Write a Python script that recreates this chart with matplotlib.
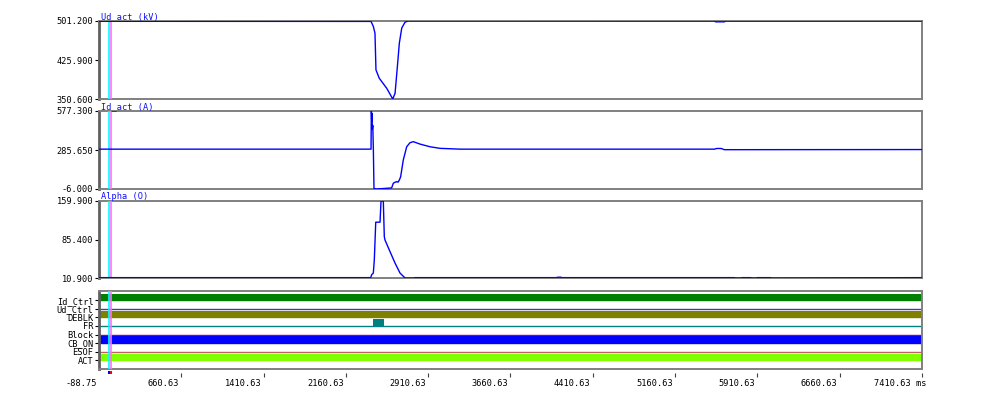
import matplotlib
matplotlib.use("Agg")
import matplotlib.pyplot as plt
from matplotlib.transforms import ScaledTranslation

plt.rcParams['font.family'] = ['DejaVu Sans Mono', 'DejaVu Sans']

# ---------------- data ----------------
t_min, t_max = -88.75, 7410.63
x_ticks = [-88.75, 660.63, 1410.63, 2160.63, 2910.63, 3660.63,
           4410.63, 5160.63, 5910.63, 6660.63, 7410.63]
x_tick_labels = ["-88.75", "660.63", "1410.63", "2160.63", "2910.63", "3660.63",
                 "4410.63", "5160.63", "5910.63", "6660.63", "7410.63 ms"]
cursor_times = [-2.0, 18.0]

ud_title = "Ud_act (kV)"
ud_t = [-88.75, 2390, 2411, 2426, 2435, 2465, 2533, 2588, 2609, 2630, 2648,
        2670, 2700, 2730, 5520, 5530, 5610, 5620, 7410.63]
ud_v = [500.6, 500.4, 490.7, 477.8, 406.8, 390.7, 371.3, 350.6, 361.6, 413.0, 458.5,
        487.6, 499.0, 501.2, 501.0, 499.6, 499.6, 501.0, 501.0]
ud_ticks = [350.6, 425.9, 501.2]
ud_tick_labels = ["350.600", "425.900", "501.200"]

id_title = "Id_act (A)"
id_t = [-88.75, 2390, 2393, 2396, 2399, 2402, 2406, 2411, 2417, 2440, 2578, 2593,
        2608, 2624, 2636, 2648, 2660, 2684, 2715, 2745, 2775, 2836, 2927, 3019,
        3201, 5520, 5540, 5580, 5610, 7410.63]
id_v = [292, 292, 577.3, 500, 560, 440, 470, 300, -2, -6, 2, 37,
        44, 49, 45, 61, 86, 211, 310, 340, 348, 330, 310, 298,
        292, 292, 297, 297, 288, 289]
id_ticks = [-6.0, 285.65, 577.3]
id_tick_labels = ["-6.000", "285.650", "577.300"]

alpha_title = "Alpha (O)"
alpha_t = [-88.75, 2387, 2396, 2411, 2420, 2433, 2472, 2481, 2502, 2511, 2517,
           2563, 2609, 2654, 2700, 2780, 2790, 4080, 4090, 4120, 4130,
           5700, 5710, 5760, 5770, 5850, 5860, 5900, 5910, 6030, 6040, 7410.63]
alpha_v = [11.6, 11.6, 17.3, 20.5, 46.0, 118.9, 118.9, 159.9, 159.9, 91.0, 84.6,
           62.0, 39.7, 20.5, 10.9, 10.9, 11.6, 11.6, 12.4, 12.4, 11.6,
           11.6, 10.9, 10.9, 11.6, 11.6, 10.9, 10.9, 11.6, 11.6, 10.9, 11.6]
alpha_ticks = [10.9, 85.4, 159.9]
alpha_tick_labels = ["10.900", "85.400", "159.900"]

dig_names = ["Id_Ctrl", "Ud_Ctrl", "DEBLK", "FR", "Block", "CB_ON", "ESOF", "ACT"]
dig_colors = ["#008000", "#404090", "#808000", "#008080", "#900090", "#0000ff", "#c06060", "#80ff00"]
dig_t = [-88.75, 2411, 2511, 7410.63]
dig_states = {
    "Id_Ctrl": [1, 1, 1, 1],
    "Ud_Ctrl": [0, 0, 0, 0],
    "DEBLK":   [1, 1, 1, 1],
    "FR":      [0, 1, 0, 0],
    "Block":   [0, 0, 0, 0],
    "CB_ON":   [1, 1, 1, 1],
    "ESOF":    [0, 0, 0, 0],
    "ACT":     [1, 1, 1, 1],
}

# ---------------- figure ----------------
W, H = 990, 396
fig = plt.figure(figsize=(W / 100, H / 100), dpi=100)

def px_axes(x0, y0, x1, y1):
    return fig.add_axes([x0 / W, 1 - y1 / H, (x1 - x0) / W, (y1 - y0) / H])

FS = 6.2
line_col = "#0000ff"
frame_col = "#808080"

def style(ax):
    for s in ["top", "bottom", "right"]:
        ax.spines[s].set_color(frame_col)
        ax.spines[s].set_linewidth(1.4)
    ax.spines["left"].set_color("#606060")
    ax.spines["left"].set_linewidth(2.0)
    ax.set_xlim(t_min, t_max)
    ax.set_xticks([])
    ax.tick_params(axis="y", direction="out", length=3, width=0.8, pad=1,
                   labelsize=FS, colors="black")
    for c, tc in zip(["#00ffff", "#ff70ff"], cursor_times):
        ax.axvline(tc, color=c, lw=1.2, zorder=3)

panels = [
    (21, 99, ud_t, ud_v, ud_ticks, ud_tick_labels, ud_title),
    (111, 189, id_t, id_v, id_ticks, id_tick_labels, id_title),
    (201, 278, alpha_t, alpha_v, alpha_ticks, alpha_tick_labels, alpha_title),
]
for y0, y1, tt, vv, ticks, tlabels, title in panels:
    ax = px_axes(99, y0, 922, y1)
    style(ax)
    ax.plot(tt, vv, color=line_col, lw=1.0, zorder=4)
    ax.set_ylim(ticks[0], ticks[-1])
    ax.set_yticks(ticks)
    ax.set_yticklabels(tlabels)
    ax.text(0.002, 1.0, title, transform=ax.transAxes, ha="left", va="bottom",
            fontsize=FS, color="#1010ff")

# digital panel
axd = px_axes(99, 291, 922, 369)
style(axd)
n = len(dig_names)
bases = [n - 1 - i for i in range(n)]
for name, col, b in zip(dig_names, dig_colors, bases):
    st = dig_states[name]
    axd.plot([t_min, t_max], [b, b], color=col, lw=1.0, zorder=2)
    axd.fill_between(dig_t, [b] * len(dig_t), [b + 0.78 * s for s in st],
                     step="post", color=col, lw=0, zorder=2)
axd.set_ylim(-1.02, n - 1 + 1.08)
axd.set_yticks(bases)
axd.set_yticklabels(dig_names)

# x axis strip
axx = px_axes(99, 370, 922, 377)
axx.set_xlim(t_min, t_max)
axx.set_ylim(0, 1)
for s in axx.spines.values():
    s.set_visible(False)
axx.set_yticks([])
axx.set_xticks(x_ticks[1:])
axx.set_xticklabels([])
axx.tick_params(axis="x", direction="in", length=3, width=0.8, colors="#404040")
axx.patch.set_alpha(0)
for xv, lab in zip(x_ticks, x_tick_labels):
    dx = -2 if not lab.endswith("ms") else 5
    off = ScaledTranslation(dx / 100, -2 / 100, fig.dpi_scale_trans)
    axx.text(xv, 0.0, lab, transform=axx.get_xaxis_transform() + off,
             ha="right", va="top", fontsize=FS, color="black")
axx.vlines([4.0], 0.45, 0.9, colors="#0000ff", lw=1.5)
axx.vlines([18.0], 0.45, 0.9, colors="#ff0000", lw=1.5)

fig.savefig("out.png", dpi=100)
